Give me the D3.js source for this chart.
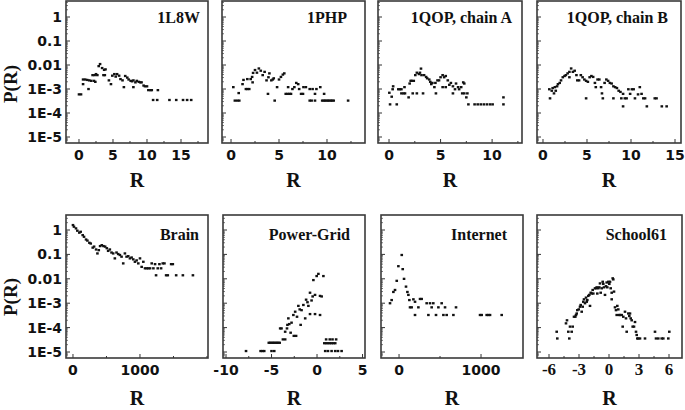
<!DOCTYPE html>
<html>
<head>
<meta charset="utf-8">
<script src="https://cdn.jsdelivr.net/npm/d3@7"></script>
<style>
  body { margin: 0; background: #fff; }
  .tick-sans { font-family: 'DejaVu Sans', sans-serif; font-weight: bold; font-size: 14px; }
  .tick-serif { font-family: 'Liberation Serif', 'Times New Roman', serif; font-weight: bold; font-size: 17px; }
  .serif { font-family: 'Liberation Serif', 'Times New Roman', serif; font-weight: bold; }
</style>
</head>
<body>
<div id="chart"></div>
<script>
var width = 685;
var height = 410;

// [R, P(R)]
var data1L8W = [[0,6e-4],[0.3,6e-4],[0.6,2.5e-3],[0.9,2.5e-3],[1.2,2.4e-3],[0.6,1.6e-3],[1.4,1e-3],[1.5,2.3e-3],[1.8,2.2e-3],[2.2,2.2e-3],[2.4,2e-3],[2.0,3.8e-3],[2.3,3.8e-3],[2.5,4.2e-3],[2.7,3.8e-3],[2.9,9e-3],[3.1,1.1e-2],[3.4,7.5e-3],[3.6,3.8e-3],[3.8,3.8e-3],[3.7,6.3e-3],[3.9,6.6e-3],[4.4,2.3e-3],[4.7,1.6e-3],[4.9,3.6e-3],[5.2,4.2e-3],[5.4,3.3e-3],[5.6,4.2e-3],[5.9,3.6e-3],[6.1,2.6e-3],[6.4,2.3e-3],[6.6,1.2e-3],[6.8,3.5e-3],[7.1,3e-3],[7.3,2.5e-3],[7.6,2.2e-3],[7.8,2.1e-3],[8.0,2.3e-3],[8.0,1.2e-3],[8.3,1.9e-3],[8.5,2.2e-3],[8.8,2e-3],[9.0,1.9e-3],[9.2,1.9e-3],[9.5,1.4e-3],[9.7,1.3e-3],[10.0,1.3e-3],[10.2,9e-4],[10.5,9e-4],[10.7,9e-4],[11.6,9e-4],[10.9,3.5e-4],[11.5,3.5e-4],[13.3,3.5e-4],[14.3,3.5e-4],[15.3,3.5e-4],[15.9,3.5e-4],[16.5,3.5e-4]];

var data1PHP = [[0.24,1.2e-3],[0.4,3.3e-4],[0.65,3.3e-4],[0.86,3.3e-4],[0.8,6.8e-4],[1.2,1.6e-3],[1.3,2.4e-3],[1.55,1e-3],[1.7,1e-3],[1.9,1e-3],[1.7,2.6e-3],[2.05,2.6e-3],[2.2,3.2e-3],[2.25,1.9e-3],[2.3,4.7e-3],[2.5,6.2e-3],[2.7,4.8e-3],[2.9,7.2e-3],[3.1,5.8e-3],[3.3,3.8e-3],[3.5,5.2e-3],[3.7,2.3e-3],[3.85,6.3e-4],[3.9,3.1e-3],[4.0,4.5e-3],[4.2,2.3e-3],[4.35,2.5e-3],[4.45,2.8e-3],[4.55,3.3e-4],[4.8,1.2e-3],[5.0,2.5e-3],[5.2,3.2e-3],[5.4,4e-3],[5.55,4.5e-3],[5.7,6.3e-4],[5.9,6.3e-4],[6.1,6.3e-4],[6.25,6.3e-4],[5.95,1.2e-3],[6.4,1e-3],[6.6,1.2e-3],[6.8,1.8e-3],[7.0,1.6e-3],[7.1,1e-3],[7.3,6.3e-4],[7.5,6.3e-4],[7.55,1.2e-3],[7.8,1.2e-3],[8.2,3.3e-4],[8.4,3.3e-4],[8.75,3.3e-4],[8.2,1e-3],[8.5,1e-3],[8.9,1e-3],[8.75,6.3e-4],[9.3,1.2e-3],[9.5,3.3e-4],[9.65,3.3e-4],[9.8,3.3e-4],[9.95,3.3e-4],[10.1,3.3e-4],[10.25,3.3e-4],[10.4,3.3e-4],[10.55,3.3e-4],[10.7,3.3e-4],[9.7,6.3e-4],[12.2,3.3e-4]];

var data1QOPA = [[0.03,7e-4],[0.26,4.8e-4],[0.1,2.3e-4],[0.75,2.3e-4],[0.4,1.3e-3],[0.35,9.8e-4],[0.9,9.8e-4],[1.05,9.8e-4],[1.2,9.8e-4],[1.2,6.6e-4],[1.4,6.6e-4],[1.55,6.6e-4],[1.5,1.2e-3],[1.9,4.5e-4],[2.0,1.7e-3],[2.1,2.2e-3],[2.2,2.2e-3],[2.4,2.2e-3],[2.55,3.8e-3],[2.7,4.8e-3],[2.3,6.6e-4],[2.7,6.6e-4],[3.3,6.6e-4],[2.9,4.2e-3],[3.0,4.8e-3],[3.1,7.1e-3],[3.15,3.8e-3],[3.4,3.8e-3],[3.6,3.2e-3],[3.7,2.8e-3],[3.9,2.5e-3],[4.0,2e-3],[4.1,1.6e-3],[4.2,1.8e-3],[4.4,1.2e-3],[4.5,1.8e-3],[4.55,6.6e-4],[4.7,2.3e-3],[4.85,2.3e-3],[5.0,3.1e-3],[5.2,3.8e-3],[5.35,3.1e-3],[5.2,1.2e-3],[5.5,1.2e-3],[5.5,3.5e-3],[5.7,2.3e-3],[5.85,1.5e-3],[6.0,1.8e-3],[6.2,1.3e-3],[6.2,6.6e-4],[6.4,9.8e-4],[6.5,1.7e-3],[6.7,1.2e-3],[6.8,9.8e-4],[7.0,1.2e-3],[7.1,6.6e-4],[7.3,6.6e-4],[7.2,1.9e-3],[7.3,1.7e-3],[7.5,4.5e-4],[7.6,6.6e-4],[7.7,2.3e-4],[8.3,2.3e-4],[8.6,2.3e-4],[8.9,2.3e-4],[9.2,2.3e-4],[9.5,2.3e-4],[9.8,2.3e-4],[10.05,2.3e-4],[11.1,2.3e-4],[11.1,4.5e-4]];

var data1QOPB = [[0.72,9.8e-4],[0.8,4.1e-4],[1.0,8.5e-4],[1.1,1.1e-3],[1.25,6.6e-4],[1.35,1.2e-3],[1.45,8.5e-4],[1.6,1.3e-3],[1.7,1.6e-3],[1.9,1.8e-3],[2.05,2.3e-3],[2.25,3.1e-3],[2.45,3.5e-3],[2.6,3.8e-3],[2.8,4.5e-3],[3.0,5.2e-3],[3.2,7.2e-3],[3.4,5.2e-3],[3.6,5.8e-3],[3.0,3.1e-3],[3.8,3.8e-3],[3.9,2.3e-3],[4.1,2.3e-3],[4.3,3.8e-3],[4.5,3.1e-3],[4.7,2.5e-3],[4.9,2.2e-3],[5.1,2e-3],[5.3,3.1e-3],[5.5,3.5e-3],[4.9,4.1e-4],[5.7,3.2e-3],[5.9,1.8e-3],[6.0,1.2e-3],[6.2,2.5e-3],[6.4,2.5e-3],[6.6,1.2e-3],[6.7,6.6e-4],[6.8,4.1e-4],[7.0,1.8e-3],[7.2,2.5e-3],[7.4,2.2e-3],[7.6,1.8e-3],[7.8,1.7e-3],[8.0,1.3e-3],[8.2,1.2e-3],[8.4,1.1e-3],[8.6,8.5e-4],[8.8,7.6e-4],[8.0,4.1e-4],[8.9,4.1e-4],[9.1,6.3e-4],[9.3,4.1e-4],[9.5,4.1e-4],[9.1,1.9e-4],[9.7,9.8e-4],[9.9,6.3e-4],[10.1,9.8e-4],[10.3,9.8e-4],[10.45,4.1e-4],[10.8,6e-4],[11.0,1.2e-3],[11.2,6.3e-4],[11.4,4.1e-4],[11.6,4.1e-4],[11.8,1.9e-4],[12.7,4.1e-4],[12.9,4.1e-4],[13.5,1.9e-4],[14.05,1.9e-4]];

var dataBrain = [[0,1.6],[15,1.37],[45,1.17],[65,0.94],[95,0.78],[115,0.85],[145,0.62],[165,0.53],[195,0.41],[215,0.37],[245,0.3],[265,0.28],[295,0.19],[315,0.21],[345,0.16],[365,0.11],[385,0.15],[405,0.22],[430,0.24],[455,0.22],[480,0.21],[505,0.18],[525,0.14],[550,0.16],[575,0.12],[600,0.11],[625,0.069],[650,0.12],[675,0.104],[700,0.095],[725,0.081],[750,0.043],[775,0.11],[800,0.081],[825,0.085],[850,0.069],[875,0.075],[900,0.063],[925,0.05],[950,0.057],[975,0.043],[1000,0.069],[1025,0.031],[1050,0.05],[1075,0.027],[1100,0.027],[1125,0.027],[1150,0.027],[1175,0.043],[1200,0.027],[1225,0.04],[1240,0.014],[1265,0.027],[1290,0.04],[1315,0.027],[1340,0.043],[1365,0.043],[1390,0.014],[1415,0.014],[1465,0.04],[1490,0.04],[1540,0.014],[1640,0.014],[1790,0.014]];

var dataPowerGrid = [[-7.8,1.1e-5],[-6.2,1.1e-5],[-6.0,1.1e-5],[-5.8,1.1e-5],[-5.0,1.1e-5],[-4.7,1.1e-5],[-5.3,2.4e-5],[-5.15,2.4e-5],[-5.0,2.4e-5],[-4.85,2.4e-5],[-4.7,2.4e-5],[-4.55,2.4e-5],[-4.4,2.4e-5],[-4.25,2.4e-5],[-4.1,2.4e-5],[-4.05,9.3e-5],[-3.9,9.3e-5],[-3.75,3.3e-5],[-3.5,3.3e-5],[-3.5,6.8e-5],[-3.3,9.3e-5],[-3.25,1.3e-4],[-3.15,2.4e-4],[-3.05,1.4e-4],[-2.9,6.2e-5],[-2.8,1.6e-4],[-2.6,3.3e-4],[-2.55,4.6e-5],[-2.3,4.6e-5],[-2.4,4.5e-4],[-2.2,2.8e-4],[-2.05,7.8e-4],[-1.9,5.6e-4],[-1.8,1.3e-4],[-1.7,5.2e-4],[-1.5,8.5e-4],[-1.3,2.4e-4],[-1.2,1.4e-3],[-1.05,1.1e-3],[-0.95,7.8e-4],[-0.77,2.7e-3],[-0.6,1.3e-3],[-0.77,3.6e-4],[-0.48,1.9e-3],[-0.4,8.9e-3],[-0.22,3.6e-4],[-0.22,2.2e-3],[-0.04,1.3e-2],[0.15,1.6e-2],[0.33,2e-3],[0.51,1.9e-3],[0.33,3.3e-4],[0.7,1.3e-2],[0.8,2.3e-5],[1.0,2.3e-5],[1.2,2.3e-5],[1.4,2.3e-5],[1.6,2.3e-5],[1.8,2.3e-5],[2.0,2.3e-5],[1.0,3.3e-5],[1.4,3.3e-5],[1.7,3.3e-5],[2.1,3.3e-5],[0.9,1.1e-5],[1.2,1.1e-5],[1.6,1.1e-5],[2.0,1.1e-5],[2.3,1.1e-5],[2.7,1.1e-5]];

var dataInternet = [[-110,1e-3],[-90,1.35e-3],[-69,2.9e-3],[-49,3.5e-3],[-28,8.3e-3],[-8,3.3e-2],[33,9.5e-2],[45,2.5e-2],[61,1e-2],[85,4.8e-3],[102,2.9e-3],[114,2.2e-3],[126,1.35e-3],[134,6.8e-4],[154,6.8e-4],[175,1.45e-3],[195,1.15e-3],[195,3.3e-4],[236,6.8e-4],[256,1.5e-3],[276,1.5e-3],[337,1e-3],[378,1e-3],[418,1e-3],[358,3.3e-4],[451,3.3e-4],[398,6.8e-4],[480,6.8e-4],[520,1e-3],[561,6.8e-4],[541,3.3e-4],[581,3.3e-4],[663,3.3e-4],[695,6.8e-4],[988,3.3e-4],[1008,3.3e-4],[1069,3.3e-4],[1090,3.3e-4],[1110,3.3e-4],[1252,3.3e-4]];

var dataSchool61 = [[-5.23,6.8e-5],[-5.17,3.6e-5],[-4.3,1.5e-4],[-4.2,2e-4],[-4.07,6.8e-5],[-3.97,3.6e-5],[-3.9,1.1e-4],[-3.73,6.8e-5],[-3.63,1.1e-4],[-3.5,2.8e-4],[-3.37,2.8e-4],[-3.3,3.3e-4],[-3.23,3.8e-4],[-3.17,5.2e-4],[-3.03,5.6e-4],[-2.9,7.2e-4],[-2.83,8.5e-4],[-2.73,4.5e-4],[-2.63,7.2e-4],[-2.57,1.15e-3],[-2.5,1.45e-3],[-2.4,1e-3],[-2.3,1.7e-3],[-2.23,1.15e-3],[-2.17,1.35e-3],[-2.07,2e-3],[-1.97,2.2e-3],[-1.9,7.8e-4],[-1.83,2.7e-3],[-1.73,2.5e-3],[-1.63,3.5e-3],[-1.57,2.5e-3],[-1.4,4.1e-3],[-1.3,4.1e-3],[-1.23,4.5e-3],[-1.17,2.5e-3],[-1.07,4.1e-3],[-0.97,4.5e-3],[-0.9,6.5e-3],[-0.83,2.7e-3],[-0.73,4.1e-3],[-0.63,7.6e-3],[-0.57,6.2e-3],[-0.5,4.5e-3],[-0.4,2.2e-3],[-0.3,5e-3],[-0.23,7.1e-3],[-0.17,4.5e-3],[-0.07,7.6e-3],[0.03,6.2e-3],[0.1,7.6e-3],[0.17,4.1e-3],[0.27,1.45e-3],[0.27,2.7e-3],[0.37,1.05e-2],[0.43,9.5e-3],[0.5,3e-3],[0.6,6.8e-4],[0.7,5.2e-4],[0.77,3.3e-4],[0.83,7.8e-4],[0.93,5.6e-4],[1.03,3.3e-4],[1.1,3.3e-4],[1.27,3.3e-4],[1.37,1.1e-4],[1.43,2.8e-4],[1.6,4.5e-4],[1.7,2.4e-4],[1.77,6.8e-5],[1.93,3.8e-4],[2.03,3e-4],[2.1,3.8e-4],[2.17,2.4e-4],[2.27,2e-4],[2.37,1.1e-4],[2.5,1.1e-4],[2.6,1.7e-4],[2.7,6.8e-5],[2.77,5e-5],[2.83,3.6e-5],[2.93,3.6e-5],[3.1,3.6e-5],[3.6,3.6e-5],[4.6,6.8e-5],[4.7,3.6e-5],[4.93,3.6e-5],[5.27,3.6e-5],[5.43,3.6e-5],[5.93,3.6e-5],[6.03,6.8e-5]];

var yTickValues = [1, 0.1, 0.01, 1e-3, 1e-4, 1e-5];
var yTickLabels = ['1', '0.1', '0.01', '1E-3', '1E-4', '1E-5'];

// panel layout
var rows = [
  { top: 1, bottom: 143, yOne: 17, yMin: 137, tickBase: 160, labelY: 187, titleY: 23, pY: 84 },
  { top: 215, bottom: 358, yOne: 230, yMin: 352, tickBase: 375, labelY: 405, titleY: 240, pY: 297 }
];

var panels = [
  { title: '1L8W', data: data1L8W, row: 0, x0: 66, x1: 208, domain: [-1.91, 18.97], ticks: [0, 5, 10, 15], inset: 8, yLabels: true },
  { title: '1PHP', data: data1PHP, row: 0, x0: 222, x1: 365, domain: [-0.94, 13.96], ticks: [0, 5, 10], inset: 18 },
  { title: '1QOP, chain A', data: data1QOPA, row: 0, x0: 378, x1: 522, domain: [-1.07, 12.9], ticks: [0, 5, 10], inset: 10 },
  { title: '1QOP, chain B', data: data1QOPB, row: 0, x0: 537, x1: 681, domain: [-0.68, 15.68], ticks: [0, 5, 10, 15], inset: 13 },
  { title: 'Brain', data: dataBrain, row: 1, x0: 66, x1: 208, domain: [-104, 2015], ticks: [0, 1000], inset: 9, yLabels: true },
  { title: 'Power-Grid', data: dataPowerGrid, row: 1, x0: 223, x1: 365, domain: [-10.33, 5.27], ticks: [-10, -5, 0, 5], inset: 15 },
  { title: 'Internet', data: dataInternet, row: 1, x0: 381, x1: 523, domain: [-220, 1512], ticks: [0, 1000], inset: 16 },
  { title: 'School61', data: dataSchool61, row: 1, x0: 537, x1: 682, domain: [-7.2, 7.3], ticks: [-6, -3, 0, 3, 6], inset: 15, serifTicks: true }
];

var svg = d3.select('#chart')
  .append('svg')
  .attr('width', width)
  .attr('height', height);

// minor tick values for the log axis
var minorValues = [];
for (var e = -6; e <= 1; e++) {
  for (var k = 2; k <= 9; k++) minorValues.push(k * Math.pow(10, e));
}

panels.forEach(function(p) {
  var row = rows[p.row];
  var x = d3.scaleLinear().domain(p.domain).range([p.x0, p.x1]);
  var y = d3.scaleLog().domain([1e-5, 1]).range([row.yMin, row.yOne]);
  var g = svg.append('g');

  // y ticks inside the left frame
  var inY = function(v) { var py = y(v); return py > row.top + 1 && py < row.bottom - 1; };
  g.selectAll('.ymajor')
    .data(yTickValues.filter(inY))
    .enter().append('line')
    .attr('x1', p.x0).attr('x2', p.x0 + 4)
    .attr('y1', function(d) { return y(d); })
    .attr('y2', function(d) { return y(d); })
    .attr('stroke', '#333').attr('stroke-width', 1);
  g.selectAll('.yminor')
    .data(minorValues.filter(inY))
    .enter().append('line')
    .attr('x1', p.x0).attr('x2', p.x0 + 2)
    .attr('y1', function(d) { return y(d); })
    .attr('y2', function(d) { return y(d); })
    .attr('stroke', '#555').attr('stroke-width', 0.8);

  // x ticks inside the bottom frame
  var step = p.ticks[1] - p.ticks[0];
  var xMinor = [];
  for (var v = p.ticks[0] - step; v <= p.ticks[p.ticks.length - 1] + step; v += step / 2) xMinor.push(v);
  g.selectAll('.xtick')
    .data(xMinor.filter(function(d) { return x(d) > p.x0 + 1 && x(d) < p.x1 - 1; }))
    .enter().append('line')
    .attr('x1', function(d) { return x(d); })
    .attr('x2', function(d) { return x(d); })
    .attr('y1', row.bottom)
    .attr('y2', function(d) { return row.bottom - (p.ticks.indexOf(d) >= 0 ? 4 : 2); })
    .attr('stroke', '#333').attr('stroke-width', 1);

  // frame
  g.append('rect')
    .attr('x', p.x0).attr('y', row.top)
    .attr('width', p.x1 - p.x0).attr('height', row.bottom - row.top)
    .attr('fill', 'none').attr('stroke', '#3a3a3a').attr('stroke-width', 1.6);

  // points
  g.selectAll('.pt')
    .data(p.data)
    .enter().append('rect')
    .attr('x', function(d) { return x(d[0]) - 1.3; })
    .attr('y', function(d) { return y(d[1]) - 1.1; })
    .attr('width', 2.6).attr('height', 2.3)
    .attr('fill', '#111');

  // x tick labels
  g.selectAll('.xlab')
    .data(p.ticks)
    .enter().append('text')
    .attr('class', p.serifTicks ? 'tick-serif' : 'tick-sans')
    .attr('x', function(d) { return x(d); })
    .attr('y', row.tickBase)
    .attr('text-anchor', 'middle')
    .attr('fill', '#111')
    .text(function(d) { return d; });

  // y tick labels
  if (p.yLabels) {
    g.selectAll('.ylab')
      .data(yTickValues)
      .enter().append('text')
      .attr('class', 'tick-sans')
      .attr('x', p.x0 - 4)
      .attr('y', function(d) { return y(d) + 5; })
      .attr('text-anchor', 'end')
      .attr('fill', '#111')
      .text(function(d, i) { return yTickLabels[i]; });

    g.append('text')
      .attr('class', 'serif')
      .attr('font-size', 19)
      .attr('text-anchor', 'middle')
      .attr('transform', 'translate(17,' + row.pY + ') rotate(-90)')
      .attr('fill', '#111')
      .text('P(R)');
  }

  // title
  g.append('text')
    .attr('class', 'serif')
    .attr('font-size', 16)
    .attr('x', p.x1 - p.inset)
    .attr('y', row.titleY)
    .attr('text-anchor', 'end')
    .attr('fill', '#111')
    .text(p.title);

  // axis label
  g.append('text')
    .attr('class', 'serif')
    .attr('font-size', 20)
    .attr('x', (p.x0 + p.x1) / 2)
    .attr('y', row.labelY)
    .attr('text-anchor', 'middle')
    .attr('fill', '#111')
    .text('R');
});
</script>
</body>
</html>
